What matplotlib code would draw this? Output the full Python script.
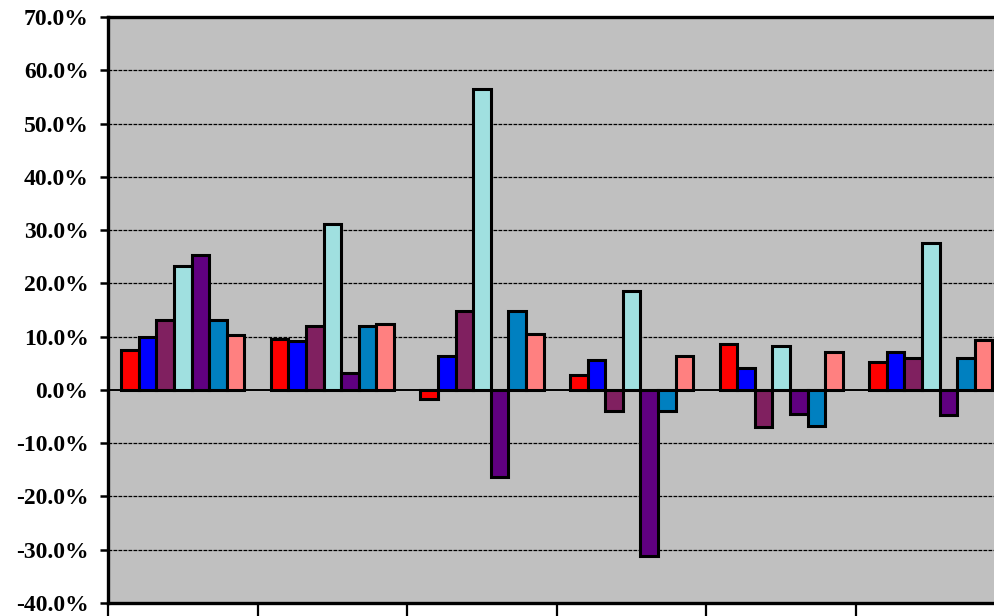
import matplotlib
matplotlib.use("Agg")
import matplotlib.pyplot as plt
import numpy as np
from matplotlib.ticker import FuncFormatter

# one value list per series, six groups each (percent)
groups = ["G1", "G2", "G3", "G4", "G5", "G6"]
s_red = [7.4, 9.5, -1.7, 2.8, 8.7, 5.3]
s_blue = [9.9, 9.1, 6.4, 5.6, 4.1, 7.2]
s_maroon = [13.1, 12.0, 14.9, -3.9, -7.0, 5.9]
s_cyan = [23.3, 31.1, 56.4, 18.6, 8.3, 27.5]
s_purple = [25.3, 3.1, -16.4, -31.2, -4.6, -4.8]
s_teal = [13.1, 12.0, 14.9, -3.9, -6.8, 5.9]
s_pink = [10.4, 12.3, 10.5, 6.4, 7.2, 9.3]

series = [s_red, s_blue, s_maroon, s_cyan, s_purple, s_teal, s_pink]
colors = ["#FF0000", "#0000FF", "#802060", "#A0E0E0", "#600080", "#0080C0", "#FF8080"]

fig = plt.figure(figsize=(9.95, 6.16), dpi=100)
ax = fig.add_axes([108 / 995, 13 / 616, 897.6 / 995, 586 / 616])
ax.set_facecolor("#C0C0C0")

x = np.arange(len(groups))
w = 1 / 8.5
for i, (vals, c) in enumerate(zip(series, colors)):
    ax.bar(x + (i - 3) * w, vals, width=w, color=c, edgecolor="black",
           linewidth=2.2, zorder=3)

ax.set_ylim(-40, 70)
ax.set_xlim(-0.5, 5.5)
ax.set_yticks(np.arange(-40, 71, 10))
ax.yaxis.set_major_formatter(FuncFormatter(lambda v, p: f"{v:.1f}%"))
for t in np.arange(-30, 70, 10):
    if t != 0:
        ax.axhline(t, color="black", lw=0.9, ls=(0, (3, 1)), zorder=1)
ax.axhline(0, color="black", lw=1.4, zorder=4)

ax.set_xticks(np.arange(-0.5, 6, 1))
ax.set_xticklabels([])
ax.tick_params(axis="x", direction="out", length=12, width=1.6)
ax.tick_params(axis="y", direction="out", length=6, width=1.8, pad=8)

for lab in ax.get_yticklabels():
    lab.set_family("Liberation Serif")
    lab.set_fontweight("bold")
    lab.set_fontsize(17)

for side in ["left", "top", "bottom"]:
    ax.spines[side].set_linewidth(2.4)
ax.spines["right"].set_visible(False)

fig.savefig("out.png", dpi=100)
